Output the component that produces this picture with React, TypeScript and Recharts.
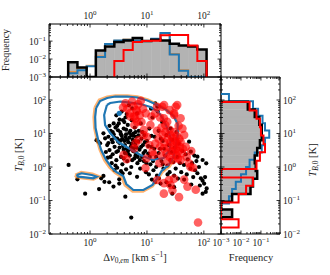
import { ComposedChart, Scatter, XAxis, YAxis, ReferenceArea } from 'recharts'

const FONT = "'Liberation Serif', 'DejaVu Serif', serif"

// ---- top histogram: Δv bins (km/s), frequencies per series
const velEdges = [0.413, 0.6, 0.871, 1.265, 1.837, 2.67, 3.88, 5.63, 8.18, 11.9, 17.3, 25.1, 36.4, 52.9, 76.8, 111.6]
const velFreqAll = [0.0066, 0.0034, 0, 0.03, 0.05, 0.09, 0.11, 0.15, 0.1, 0.12, 0.11, 0.072, 0.057, 0.05, 0.034]
const velFreqBlue = [0.0016, 0.0024, 0.004, 0.013, 0.07, 0.11, 0.12, 0.11, 0.1, 0.135, 0.28, 0.018, 0.0022, 0, 0]
const velFreqOrange = [0.0019, 0.0032, 0.0042, 0.014, 0.068, 0.105, 0.125, 0.105, 0.1, 0.13, 0.27, 0.019, 0.0024, 0, 0]
const velEdgesRed = [2.67, 3.88, 5.63, 8.18, 11.9, 17.3, 25.1, 36.4, 52.9, 76.8, 111.6]
const velFreqRed = [0.0079, 0.032, 0.089, 0.1, 0.105, 0.21, 0.22, 0.22, 0.057, 0.0079]

// ---- right histogram: T_B,0 bins (K), top to bottom
const tbEdgesAll = [89.1, 52.5, 30.9, 18.2, 10.7, 6.31, 3.72, 2.19, 1.29, 0.759, 0.447, 0.263, 0.155, 0.0912, 0.0537, 0.0316]
const tbFreqAll = [0.022, 0.049, 0.083, 0.11, 0.11, 0.089, 0.065, 0.049, 0.055, 0.065, 0.04, 0.03, 0.0036, 0, 0.0036]
const tbEdgesRed = [87.1, 49.0, 27.5, 15.5, 8.71, 4.9, 2.75, 1.55, 0.871, 0.49, 0.275, 0.155, 0.0871, 0.049, 0.0275, 0.0155]
const tbFreqRed = [0.027, 0.06, 0.089, 0.1, 0.134, 0.16, 0.089, 0.06, 0, 0.04, 0.018, 0.0076, 0, 0, 0.0076]
const tbEdgesBlue = [151, 91.2, 55.0, 33.9, 20.4, 12.3, 7.41, 4.47, 2.69, 1.66, 1.0, 0.603, 0.363, 0.219, 0.135, 0.0813]
const tbFreqBlue = [0.0025, 0.04, 0.072, 0.12, 0.16, 0.26, 0.16, 0.11, 0.049, 0.027, 0.018, 0.01, 0.0055, 0.0036, 0.0025]

// ---- scatter: [Δv, T_B,0]
const blackPts = [
  [0.42, 1.15], [0.6, 0.43], [0.82, 0.16], [1.44, 0.22], [1.57, 0.46], [1.72, 0.54], [1.79, 0.36], [2.17, 0.35],
  [2.58, 0.26], [2.69, 0.81], [3.26, 0.43], [3.26, 0.32], [3.73, 0.65], [4.17, 0.13], [5.3, 0.031], [1.4, 5.7],
  [1.5, 5.1], [1.72, 10.1], [1.84, 7.2], [6.7, 0.51], [1.3, 6.3],
  [2.0, 4.5], [2.1, 8.0], [2.2, 3.2], [2.3, 12], [2.4, 6.5], [2.5, 2.4], [2.6, 9.5], [2.7, 4.0], [2.8, 15], [2.9, 1.6],
  [3.0, 7.0], [3.1, 3.0], [3.2, 20], [3.3, 5.2], [3.4, 11], [3.5, 2.0], [3.6, 8.5], [3.7, 1.2], [3.8, 4.2], [3.9, 14],
  [4.0, 6.0], [4.1, 2.6], [4.2, 30], [4.3, 9.5], [4.4, 3.5], [4.5, 1.5], [4.6, 18], [4.7, 5.5], [4.8, 70], [4.9, 7.5],
  [5.0, 2.2], [5.1, 12], [5.2, 4.0], [5.3, 1.0], [5.4, 25], [5.5, 56], [5.6, 6.5], [5.7, 3.0], [5.8, 10], [6.0, 1.8],
  [6.1, 15], [6.2, 4.8], [6.4, 8.0], [6.5, 2.6], [6.7, 40], [6.8, 1.3], [7.0, 5.8], [7.2, 12], [7.4, 3.3], [7.6, 0.9],
  [7.8, 20], [8.0, 7.0], [8.2, 2.0], [8.5, 4.5], [8.8, 1.5], [9.0, 9.0], [9.3, 3.0], [9.6, 0.7], [2.4, 1.3], [3.0, 0.95],
  [3.5, 0.75], [2.8, 1.1], [4.3, 0.85], [5.0, 0.65], [3.3, 26], [2.9, 35], [3.6, 45], [4.0, 22], [2.6, 20], [2.2, 17],
  [1.9, 2.8], [2.05, 1.9], [3.9, 3.3], [4.6, 2.9], [5.9, 3.7], [6.3, 2.2], [3.4, 6.2], [4.2, 7.8], [3.1, 12.5], [5.3, 9.0],
  [2.3, 2.0], [2.5, 5.5], [2.7, 7.5], [2.9, 2.8], [3.1, 5.8], [3.3, 3.8], [3.5, 9.5], [3.7, 6.8], [3.9, 1.8], [4.1, 4.5],
  [4.3, 13], [4.5, 6.5], [4.7, 2.4], [4.9, 10.5], [5.1, 3.4], [5.3, 5.0], [5.5, 1.6], [5.7, 8.5], [5.9, 2.9], [6.1, 6.0],
  [6.3, 11], [6.6, 3.8], [6.9, 2.0], [7.1, 8.8], [7.5, 1.6], [7.9, 4.0], [8.3, 11], [8.7, 2.6], [9.2, 5.5], [9.8, 1.3],
  [10.5, 4.2], [11.2, 2.0], [12, 8.5], [12.8, 1.5], [13.5, 3.5], [14.5, 1.0], [16, 2.6], [17.5, 7], [19, 1.2], [20, 3.5],
  [23, 0.6], [26, 1.6], [2.1, 5.2], [2.5, 11], [3.0, 17], [3.8, 25], [4.4, 38],
  [10, 6], [10.5, 2.5], [11, 14], [11.5, 1.2], [12, 4], [12.5, 30], [13, 0.8], [13.5, 8], [14, 79], [14.5, 2],
  [15.2, 63], [15, 0.55], [16, 12], [16.2, 0.46], [17.3, 0.32], [17, 3.5], [18, 1.5], [18.5, 22], [19, 6], [19.5, 0.9],
  [10.8, 0.6], [12.2, 0.42], [13.8, 0.35], [15.5, 45], [11.8, 55],
  [21, 2.2], [22, 9], [23, 1.1], [24, 4.5], [25, 0.7], [26, 14], [27, 2.8], [27.9, 0.16], [28, 6.5], [29, 1.4],
  [30, 0.55], [31, 3.8], [32, 0.9], [33, 11], [34, 2.0], [35, 0.45], [36, 5], [38, 1.3], [40, 0.7], [42, 3],
  [44.8, 1.15], [45, 0.42], [22, 0.35], [25, 0.28], [30, 0.25],
  [48, 2.4], [50, 0.6], [52, 1.7], [55, 5.7], [58, 0.9], [59, 2.87], [62, 1.3], [65, 0.5], [68, 2.2], [70, 0.8],
  [74, 1.5], [77, 2.03], [77, 0.65], [82, 1.0], [88.5, 0.46], [95, 0.39], [95, 1.62], [101, 0.32], [108, 0.18], [95, 0.16],
  [112, 0.23], [110, 1.29], [105, 0.5], [85, 0.28], [60, 0.3],
]

const redPts = [
  [3.8, 60], [4.2, 80], [4.5, 55], [5.0, 40], [5.5, 90], [5.8, 65], [6.2, 28], [6.5, 50],
  [7.0, 75], [7.5, 35], [8.0, 22], [6.0, 18], [8.5, 55], [9.5, 40], [7.8, 95],
  [5.1, 32], [6.7, 45], [5.9, 32],
  [8.8, 12.7], [7.1, 6.4], [5.9, 3.6], [3.9, 2.3], [9.4, 0.93], [6.3, 5.1], [8.8, 9], [6.7, 22.5], [11.5, 18], [12, 32],
  [10, 8], [11, 4.5], [12.5, 2.8], [13, 2.3], [9.8, 1.8], [4.4, 1.7],
  [15, 63], [18.6, 63], [20, 71], [32, 63], [34, 71], [30, 40], [30, 36], [22.7, 22.5], [19.8, 28.5], [39, 28.5],
  [25, 50], [14, 40], [17, 30],
  [15, 12], [16, 7], [17, 4], [18, 15], [19, 9], [19.8, 3.6], [20, 5.5], [21, 11], [22, 2.5], [22.7, 1.45],
  [23, 7], [24, 4], [25, 13], [25, 2], [26, 9], [26, 5.5], [27, 3], [28, 7.5], [28, 1.6], [29, 4.5],
  [30, 2.9], [30, 11], [31, 6], [32, 3.5], [33, 8.5], [33, 2.2], [34, 5], [35, 1.8], [36, 3], [37, 7],
  [38, 4], [39, 5.7], [39, 1.6], [41, 2.6], [43, 3.5], [45, 9], [48, 4], [50, 2], [55, 1.3], [42, 14],
  [36, 17], [21, 18], [18, 2.2], [14, 5], [16.5, 1.3],
  [15.1, 0.41], [19.8, 0.16], [36.6, 0.126], [26, 0.29], [24.3, 0.41], [51.5, 0.26], [72, 0.21], [79, 0.022],
  [20, 0.33], [30, 0.45], [45, 0.42], [58, 1.0], [65, 0.95], [28, 0.2], [60, 3],
]

const bluePts = [[3.26, 40]]

// density contours [Δv, T_B,0]
const blueOuter = [
  [1.28, 57.7], [1.5, 93], [2.0, 115], [2.77, 127], [4.52, 127], [6.79, 119], [10.2, 97], [15.3, 71], [22.1, 50],
  [29.4, 33.3], [34.7, 19.2], [34.7, 9.0], [31.9, 4.24], [29.4, 1.99], [24.0, 1.15], [18.1, 0.76], [15.3, 0.47],
  [12.5, 0.29], [8.67, 0.206], [5.77, 0.206], [4.34, 0.311], [3.84, 0.538], [2.88, 0.71], [2.35, 1.0], [1.92, 1.62],
  [1.57, 3.21], [1.39, 6.4], [1.25, 14.6], [1.23, 31.1],
]
const blueInner = [
  [1.98, 71], [2.26, 81.3], [3.4, 90], [5.1, 84], [7.67, 76], [11.5, 61.8], [16.0, 43.8], [19.6, 25.3], [23.1, 13.6],
  [26.1, 7.34], [25.0, 3.21], [19.6, 1.86], [12.5, 1.62], [7.67, 2.28], [4.71, 3.69], [3.13, 5.57], [2.26, 10.3],
  [1.84, 17.9], [1.77, 35.6],
]
const blueSmall = [[0.58, 0.577], [0.71, 0.65], [1.07, 0.577], [1.31, 0.513], [1.14, 0.46], [0.82, 0.49], [0.62, 0.513]]
const orangeOuter = [
  [1.22, 60], [1.45, 100], [2.0, 124], [2.8, 135], [4.5, 134], [6.8, 125], [10.5, 100], [15.5, 72], [22.5, 50],
  [30, 33], [35, 19], [35, 9], [32.5, 4.2], [30.5, 1.9], [25, 1.05], [18.5, 0.7], [15.5, 0.44], [12.5, 0.27],
  [8.5, 0.19], [5.6, 0.19], [4.1, 0.29], [3.6, 0.5], [2.75, 0.68], [2.2, 0.98], [1.8, 1.6], [1.5, 3.2], [1.33, 6.4],
  [1.2, 14.6], [1.17, 31],
]
const orangeSmall = [[0.55, 0.57], [0.7, 0.69], [1.1, 0.62], [1.42, 0.52], [1.15, 0.43], [0.8, 0.46], [0.58, 0.5]]

const velMajor = [1, 10, 100]
const tbMajor = [0.01, 0.1, 1, 10, 100]
const freqMajor = [0.001, 0.01, 0.1]

const VEL_DOMAIN = [0.19, 200]
const TB_DOMAIN = [0.01, 486]
const FREQ_DOMAIN = [0.001, 0.9]

// panel rectangles (px)
const W = 330
const H = 275
const LEFT = 49
const MID = 221
const RIGHT = 280
const TOP = 24
const SPLIT = 77
const BOTTOM = 234

const toXY = (pts: number[][]) => pts.map(([x, y]) => ({ x, y }))
const closed = (pts: number[][]) => toXY([...pts, pts[0]])

function withMinors(majors: number[], lo: number, hi: number) {
  const out: number[] = []
  for (const m of [majors[0] / 10, ...majors]) {
    for (let k = 1; k < 10; k++) {
      const v = m * k
      if (v >= lo * 0.999 && v <= hi * 1.001) out.push(v)
    }
  }
  return out
}

function stepOutline(edges: number[], freqs: number[], base: number, vertical = false) {
  const pts: { x: number; y: number }[] = []
  const push = (e: number, f: number) => pts.push(vertical ? { x: f, y: e } : { x: e, y: f })
  push(edges[0], base)
  freqs.forEach((f, i) => {
    const h = f > 0 ? f : base
    push(edges[i], h)
    push(edges[i + 1], h)
  })
  push(edges[edges.length - 1], base)
  return pts
}

const isMajor = (v: number) => Math.abs(Math.log10(v) - Math.round(Math.log10(v))) < 1e-6

function PowLabel({ v, x, y, anchor }: { v: number; x: number; y: number; anchor: 'start' | 'middle' | 'end' }) {
  const e = Math.round(Math.log10(v))
  return (
    <text x={x} y={y} textAnchor={anchor} fontSize={9.5} fontFamily={FONT} fill="#222" stroke="none">
      10<tspan dy={-3.8} fontSize={7}>{e < 0 ? `\u2212${-e}` : e}</tspan>
    </text>
  )
}

function makeTick(side: 'bottom' | 'top' | 'left' | 'right', labelled: boolean) {
  return function Tick(props: any) {
    const { x, y, payload } = props
    const v = payload.value
    const major = isMajor(v)
    const len = major ? 3.5 : 2
    let line
    let label = null
    if (side === 'bottom') {
      line = <line x1={x} x2={x} y1={y} y2={y - len} />
      if (labelled && major) label = <PowLabel v={v} x={x} y={y + 11.5} anchor="middle" />
    } else if (side === 'top') {
      line = <line x1={x} x2={x} y1={y} y2={y + len} />
      if (labelled && major) label = <PowLabel v={v} x={x} y={y - 5} anchor="middle" />
    } else if (side === 'left') {
      line = <line x1={x} x2={x + len} y1={y} y2={y} />
      if (labelled && major) label = <PowLabel v={v} x={x - 3} y={y + 3.5} anchor="end" />
    } else {
      line = <line x1={x} x2={x - len} y1={y} y2={y} />
      if (labelled && major) label = <PowLabel v={v} x={x + 3} y={y + 3.5} anchor="start" />
    }
    return (
      <g stroke="#000" strokeWidth={0.8}>
        {line}
        {label}
      </g>
    )
  }
}

// axes get a 1px box (recharts skips zero-sized axes); margins are reduced by 1 to compensate
function axes(xDomain: number[], yDomain: number[], xTicks: number[], yTicks: number[], lab: { b?: boolean; t?: boolean; l?: boolean; r?: boolean }) {
  const common = {
    type: 'number' as const,
    scale: 'log' as const,
    allowDataOverflow: true,
    tickLine: false,
    tickSize: 0,
    tickMargin: 0,
    interval: 0,
    axisLine: { stroke: '#000', strokeWidth: 1 },
  }
  return [
    <XAxis key="xb" xAxisId="b" orientation="bottom" dataKey="x" height={1} domain={xDomain} ticks={xTicks} tick={makeTick('bottom', !!lab.b)} {...common} />,
    <XAxis key="xt" xAxisId="t" orientation="top" dataKey="x" height={1} domain={xDomain} ticks={xTicks} tick={makeTick('top', !!lab.t)} {...common} />,
    <YAxis key="yl" yAxisId="l" orientation="left" dataKey="y" width={1} domain={yDomain} ticks={yTicks} tick={makeTick('left', !!lab.l)} {...common} />,
    <YAxis key="yr" yAxisId="r" orientation="right" dataKey="y" width={1} domain={yDomain} ticks={yTicks} tick={makeTick('right', !!lab.r)} {...common} />,
  ]
}

const margins = (left: number, top: number, right: number, bottom: number) => ({
  left: left - 1,
  top: top - 1,
  right: W - right - 1,
  bottom: H - bottom - 1,
})

const noMark = () => <g />
const dot = (r: number, fill: string, opacity = 1) => (p: any) => <circle cx={p.cx} cy={p.cy} r={r} fill={fill} fillOpacity={opacity} />

function stepLine(key: string, pts: { x: number; y: number }[], stroke: string, width: number, opacity = 1) {
  return (
    <Scatter
      key={key}
      xAxisId="b"
      yAxisId="l"
      data={pts}
      shape={noMark}
      line={{ stroke, strokeWidth: width, strokeOpacity: opacity, strokeLinejoin: 'miter' }}
      isAnimationActive={false}
    />
  )
}

const velTicks = withMinors(velMajor, VEL_DOMAIN[0], VEL_DOMAIN[1])
const tbTicks = withMinors(tbMajor, TB_DOMAIN[0], TB_DOMAIN[1])
const freqTicks = withMinors(freqMajor, FREQ_DOMAIN[0], FREQ_DOMAIN[1])

const GREY = '#b3b3b3'
const BLUE = '#1f77b4'
const ORANGE = '#ff7f0e'
const RED = '#ff0000'

function TopHist() {
  const base = FREQ_DOMAIN[0]
  return (
    <ComposedChart width={W} height={H} margin={margins(LEFT, TOP, MID, SPLIT)}>
      {axes(VEL_DOMAIN, FREQ_DOMAIN, velTicks, freqTicks, { t: true, l: true })}
      {velFreqAll.map((f, i) =>
        f > 0 ? (
          <ReferenceArea key={`g${i}`} xAxisId="b" yAxisId="l" x1={velEdges[i]} x2={velEdges[i + 1]} y1={base} y2={f} fill={GREY} fillOpacity={1} stroke={GREY} strokeWidth={0.5} ifOverflow="hidden" />
        ) : null,
      )}
      {stepLine('o', stepOutline(velEdges, velFreqOrange, base), ORANGE, 2, 0.7)}
      {stepLine('bl', stepOutline(velEdges, velFreqBlue, base), BLUE, 2)}
      {stepLine('k', stepOutline(velEdges, velFreqAll, base), '#000', 2.5)}
      {stepLine('r', stepOutline(velEdgesRed, velFreqRed, base), RED, 2)}
    </ComposedChart>
  )
}

function RightHist() {
  const base = FREQ_DOMAIN[0]
  return (
    <ComposedChart width={W} height={H} margin={margins(MID, SPLIT, RIGHT, BOTTOM)}>
      {axes(FREQ_DOMAIN, TB_DOMAIN, freqTicks, tbTicks, { b: true, r: true })}
      {tbFreqAll.map((f, i) =>
        f > 0 ? (
          <ReferenceArea key={`g${i}`} xAxisId="b" yAxisId="l" y1={tbEdgesAll[i]} y2={tbEdgesAll[i + 1]} x1={base} x2={f} fill={GREY} fillOpacity={1} stroke={GREY} strokeWidth={0.5} ifOverflow="hidden" />
        ) : null,
      )}
      {stepLine('bl', stepOutline(tbEdgesBlue, tbFreqBlue, base, true), BLUE, 2)}
      {stepLine('k', stepOutline(tbEdgesAll, tbFreqAll, base, true), '#000', 2.5)}
      {stepLine('r', stepOutline(tbEdgesRed, tbFreqRed, base, true), RED, 2)}
    </ComposedChart>
  )
}

function MainPanel() {
  return (
    <ComposedChart width={W} height={H} margin={margins(LEFT, SPLIT, MID, BOTTOM)}>
      {axes(VEL_DOMAIN, TB_DOMAIN, velTicks, tbTicks, { b: true, l: true })}
      <Scatter xAxisId="b" yAxisId="l" data={toXY(blackPts)} shape={dot(2.1, '#000')} isAnimationActive={false} />
      {stepLine('oo', closed(orangeOuter), ORANGE, 3, 0.6)}
      {stepLine('os', closed(orangeSmall), ORANGE, 3, 0.6)}
      {stepLine('bo', closed(blueOuter), BLUE, 2.2)}
      {stepLine('bi', closed(blueInner), BLUE, 2.2)}
      {stepLine('bs', closed(blueSmall), BLUE, 2.2)}
      <Scatter xAxisId="b" yAxisId="l" data={toXY(redPts)} shape={dot(4.3, RED, 0.62)} isAnimationActive={false} />
      <Scatter xAxisId="b" yAxisId="l" data={toXY(bluePts)} shape={dot(2.6, BLUE)} isAnimationActive={false} />
    </ComposedChart>
  )
}

function Titles() {
  const t = { fontFamily: FONT, fill: '#222' }
  return (
    <svg width={W} height={H} style={{ position: 'absolute', left: 0, top: 0, pointerEvents: 'none' }}>
      <text {...t} fontSize={10} textAnchor="middle" transform="translate(9,50) rotate(-90)">Frequency</text>
      <text {...t} fontSize={10.5} textAnchor="middle" transform="translate(22,155) rotate(-90)">
        <tspan fontStyle="italic">T</tspan>
        <tspan fontSize={7.5} dy={2}><tspan fontStyle="italic">B</tspan>,0</tspan>
        <tspan dy={-2}> [K]</tspan>
      </text>
      <text {...t} fontSize={10.5} textAnchor="middle" transform="translate(316,160) rotate(-90)">
        <tspan fontStyle="italic">T</tspan>
        <tspan fontSize={7.5} dy={2}><tspan fontStyle="italic">B</tspan>,0</tspan>
        <tspan dy={-2}> [K]</tspan>
      </text>
      <text {...t} fontSize={10.5} textAnchor="middle" x={135} y={261}>
        {'\u0394'}<tspan fontStyle="italic">v</tspan>
        <tspan fontSize={7.5} dy={2}>0,<tspan fontStyle="italic">em</tspan></tspan>
        <tspan dy={-2}> [km s</tspan>
        <tspan fontSize={7.5} dy={-4}>{'\u22121'}</tspan>
        <tspan dy={4}>]</tspan>
      </text>
      <text {...t} fontSize={10.5} textAnchor="middle" x={251} y={261}>Frequency</text>
    </svg>
  )
}

export default function App() {
  const layer = { position: 'absolute' as const, left: 0, top: 0 }
  return (
    <div style={{ position: 'absolute', left: 0, top: 0, width: W, height: H, background: '#fff' }}>
      <div style={layer}><TopHist /></div>
      <div style={layer}><MainPanel /></div>
      <div style={layer}><RightHist /></div>
      <Titles />
    </div>
  )
}
